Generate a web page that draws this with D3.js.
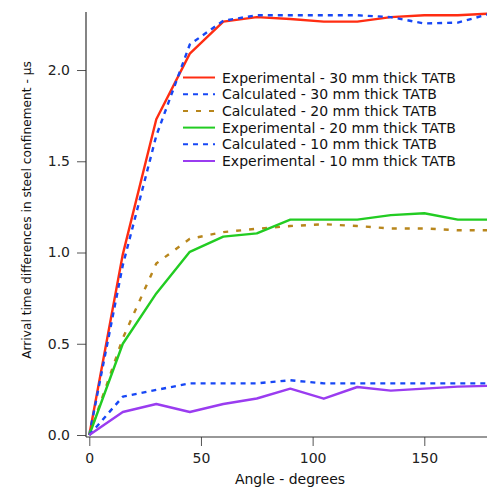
<!DOCTYPE html>
<html>
<head>
<meta charset="utf-8">
<script src="https://cdn.jsdelivr.net/npm/d3@7"></script>
<style>
  html, body { margin: 0; padding: 0; background: #fff; }
  svg { display: block; font-family: "DejaVu Sans", sans-serif; }
</style>
</head>
<body>
<svg id="chart" width="487" height="490"></svg>
<script>
const angles = [0, 15, 30, 45, 60, 75, 90, 105, 120, 135, 150, 165, 180];

const exp30  = [0, 0.99, 1.73, 2.09, 2.265, 2.29, 2.28, 2.265, 2.265, 2.29, 2.30, 2.30, 2.31];
const calc30 = [0, 0.93, 1.64, 2.14, 2.27, 2.30, 2.30, 2.30, 2.30, 2.29, 2.255, 2.26, 2.31];
const calc20 = [0, 0.53, 0.94, 1.075, 1.112, 1.13, 1.145, 1.155, 1.145, 1.132, 1.132, 1.122, 1.122];
const exp20  = [0, 0.50, 0.776, 1.004, 1.087, 1.105, 1.18, 1.18, 1.18, 1.205, 1.215, 1.18, 1.18];
const calc10 = [0, 0.21, 0.247, 0.283, 0.283, 0.283, 0.30, 0.283, 0.283, 0.283, 0.283, 0.283, 0.283];
const exp10  = [0, 0.126, 0.17, 0.126, 0.17, 0.20, 0.254, 0.199, 0.263, 0.243, 0.254, 0.265, 0.27];

const seriesNames = [
  "Experimental - 30 mm thick TATB",
  "Calculated - 30 mm thick TATB",
  "Calculated - 20 mm thick TATB",
  "Experimental - 20 mm thick TATB",
  "Calculated - 10 mm thick TATB",
  "Experimental - 10 mm thick TATB"
];
const seriesValues = [exp30, calc30, calc20, exp20, calc10, exp10];
const seriesColors = ["#ff2d12", "#1747f5", "#b8861c", "#22cc22", "#1747f5", "#9a3cf0"];
const seriesDash = [null, "5,5", "5,8", null, "5,5", null];

const xTicks = [0, 50, 100, 150];
const yTicks = [0, 0.5, 1.0, 1.5, 2.0];
const xTitle = "Angle - degrees";
const yTitle = "Arrival time differences in steel confinement - \u03bcs";

const svg = d3.select("#chart");
const x = d3.scaleLinear().domain([0, 180]).range([89.3, 491.3]);
const y = d3.scaleLinear().domain([0, 2.318]).range([435, 12]);

const axisX0 = 86, axisY0 = 437;

// y axis
const gy = svg.append("g").attr("transform", `translate(${axisX0},0)`)
  .call(d3.axisLeft(y).tickValues(yTicks).tickFormat(d3.format(".1f"))
        .tickSize(9).tickSizeOuter(0).tickPadding(7));
gy.select(".domain").remove();
gy.selectAll(".tick line").attr("stroke", "#555");
gy.selectAll(".tick text").attr("font-size", 14).attr("fill", "#222")
  .attr("font-family", "DejaVu Sans, sans-serif");

// x axis
const gx = svg.append("g").attr("transform", `translate(0,${axisY0})`)
  .call(d3.axisBottom(x).tickValues(xTicks).tickFormat(d3.format("d"))
        .tickSize(9).tickSizeOuter(0).tickPadding(7));
gx.select(".domain").remove();
gx.selectAll(".tick line").attr("stroke", "#555");
gx.selectAll(".tick text").attr("font-size", 14).attr("fill", "#222")
  .attr("font-family", "DejaVu Sans, sans-serif");

// axis lines
svg.append("line").attr("x1", axisX0).attr("x2", axisX0).attr("y1", 12).attr("y2", axisY0)
  .attr("stroke", "#333").attr("stroke-width", 1.2);
svg.append("line").attr("x1", axisX0).attr("x2", 487).attr("y1", axisY0).attr("y2", axisY0)
  .attr("stroke", "#333").attr("stroke-width", 1.2);

// lines
const line = d3.line().x((d, i) => x(angles[i])).y(d => y(d));
seriesValues.forEach((vals, k) => {
  svg.append("path").datum(vals)
    .attr("d", line)
    .attr("fill", "none")
    .attr("stroke", seriesColors[k])
    .attr("stroke-width", 2.4)
    .attr("stroke-linejoin", "round")
    .attr("stroke-dasharray", seriesDash[k]);
});

// legend
const lg = svg.append("g");
seriesNames.forEach((name, k) => {
  const yy = 77.5 + k * 16.7;
  lg.append("line").attr("x1", 183).attr("x2", 215).attr("y1", yy).attr("y2", yy)
    .attr("stroke", seriesColors[k]).attr("stroke-width", 2)
    .attr("stroke-dasharray", seriesDash[k]);
  lg.append("text").attr("x", 222).attr("y", yy).attr("dy", "0.36em")
    .attr("font-size", 14).attr("fill", "#111").text(name);
});

// titles
svg.append("text").attr("x", 290).attr("y", 484).attr("text-anchor", "middle")
  .attr("font-size", 14).attr("fill", "#111").text(xTitle);
svg.append("text").attr("transform", "translate(31,210) rotate(-90)")
  .attr("text-anchor", "middle").attr("font-size", 12.2).attr("fill", "#111").text(yTitle);
</script>
</body>
</html>
